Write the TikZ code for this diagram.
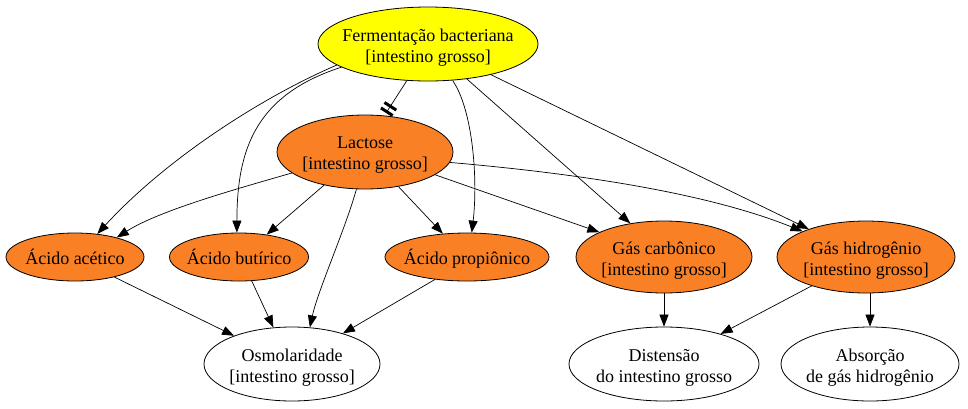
\documentclass[tikz,border=0pt]{standalone}
\usepackage{fontspec}
\setmainfont{Liberation Serif}
\usetikzlibrary{arrows.meta,shapes.geometric}
\definecolor{nodeorange}{RGB}{250,128,38}
\definecolor{nodeyellow}{RGB}{255,255,0}
\newcommand{\zb}[1]{\makebox[0pt]{#1}}
\newcommand{\zl}[1]{\makebox[0pt]{\raisebox{-3.5pt}[\height][\depth]{#1}}}
\begin{document}
\begin{tikzpicture}[x=1pt,y=-1pt,
  base/.style={ellipse, draw=black, line width=0.8pt, inner sep=0pt, align=center,
    font=\fontsize{18}{21}\selectfont},
  orangenode/.style={base, fill=nodeorange},
  yellownode/.style={base, fill=nodeyellow},
  whitenode/.style={base, fill=white},
  arr/.style={-{Triangle[length=12pt,width=9pt]}, line width=0.7pt},
  teearr/.style={-{Bar[width=14pt,line width=3pt,sep=3.5pt]Bar[width=14pt,line width=3pt]}, line width=0.7pt, shorten >=3pt}
]
\useasboundingbox (0,0) rectangle (968,408);

\node[yellownode, minimum width=220pt, minimum height=74pt] (ferm) at (428,44) {\zl{Fermentação bacteriana}\\\zl{[intestino grosso]}};
\node[orangenode, minimum width=176pt, minimum height=74pt] (lac) at (365,152) {\zl{Lactose}\\\zl{[intestino grosso]}};
\node[orangenode, minimum width=138pt, minimum height=48pt] (ace) at (75,257) {\zb{Ácido acético}};
\node[orangenode, minimum width=139pt, minimum height=48pt] (but) at (239,257) {\zb{Ácido butírico}};
\node[orangenode, minimum width=164pt, minimum height=48pt, text depth=0pt] (pro) at (467,257) {\zb{Ácido propiônico}};
\node[orangenode, minimum width=176pt, minimum height=72pt] (carb) at (664,257) {\zl{Gás carbônico}\\\zl{[intestino grosso]}};
\node[orangenode, minimum width=178pt, minimum height=72pt] (hid) at (866,257) {\zl{Gás hidrogênio}\\\zl{[intestino grosso]}};
\node[whitenode, minimum width=176pt, minimum height=74pt] (osm) at (292,364) {\zl{Osmolaridade}\\\zl{[intestino grosso]}};
\node[whitenode, minimum width=190pt, minimum height=74pt] (dis) at (664,364) {\zl{Distensão}\\\zl{do intestino grosso}};
\node[whitenode, minimum width=178pt, minimum height=74pt] (abs) at (870,364) {\zl{Absorção}\\\zl{de gás hidrogênio}};

\draw[teearr] (ferm.240) -- (lac.62);
\draw[arr] (ferm.193) .. controls (260,98) and (165,160) .. (ace.46);
\draw[arr] (ferm.195) .. controls (255,95) and (237,150) .. (but.95);
\draw[arr] (ferm.304) .. controls (473,110) and (478,180) .. (pro.79);
\draw[arr] (ferm.318) -- (carb.135);
\draw[arr] (ferm.334) -- (hid.154);

\draw[arr] (lac.196) .. controls (240,188) and (160,210) .. (ace.25);
\draw[arr] (lac.219) -- (but.39);
\draw[arr] (lac.314) -- (pro.136);
\draw[arr] (lac.342) -- (carb.159);
\draw[arr] (lac.353) .. controls (560,172) and (700,190) .. (hid.158);
\draw[arr] (lac.257) .. controls (345,230) and (318,290) .. (osm.64);

\draw[arr] (ace.333) -- (osm.154);
\draw[arr] (but.298) -- (osm.117);
\draw[arr] (pro.215) -- (osm.31);

\draw[arr] (carb.south) -- (dis.north);
\draw[arr] (hid.208) -- (dis.28);
\draw[arr] (hid.south -| abs.north) -- (abs.north);
\end{tikzpicture}
\end{document}
